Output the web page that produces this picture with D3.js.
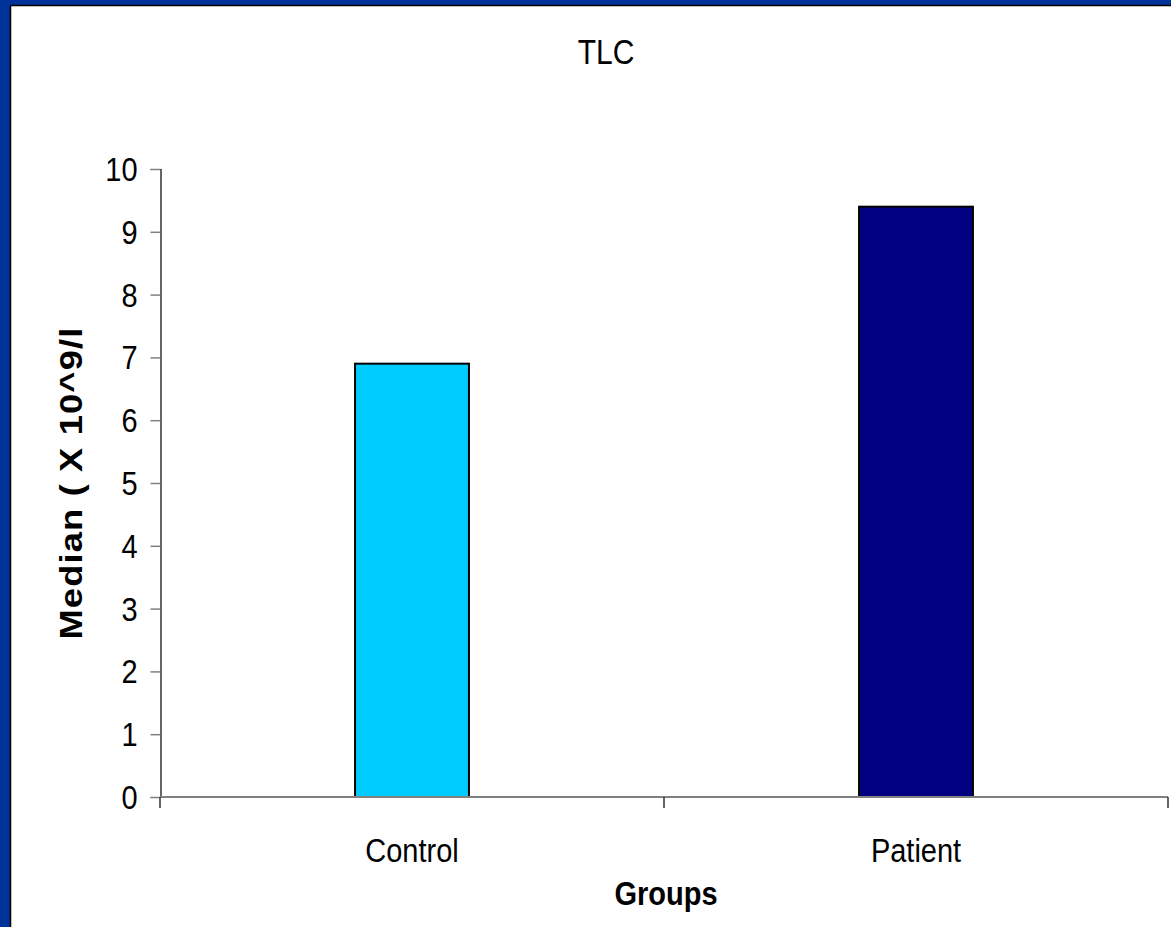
<!DOCTYPE html>
<html>
<head>
<meta charset="utf-8">
<script src="https://cdn.jsdelivr.net/npm/d3@7"></script>
<style>
  html, body { margin: 0; padding: 0; background: #fff; }
  svg text { font-family: "Liberation Sans", Arial, sans-serif; fill: #000; }
</style>
</head>
<body>
<svg id="chart" width="1171" height="927"></svg>
<script>
"use strict";

var groups = ["Control", "Patient"];
var medians = [6.9, 9.4];
var barColors = ["#00ccff", "#000080"];
var yTicks = [0, 1, 2, 3, 4, 5, 6, 7, 8, 9, 10];

var stretch = 1.17; // the slide text is a bit taller than it is wide

var svg = d3.select("#chart");

// slide frame: blue band left and top with thin black edge
svg.append("rect").attr("x", 0).attr("y", 0).attr("width", 1171).attr("height", 5).attr("fill", "#003399");
svg.append("rect").attr("x", 0).attr("y", 0).attr("width", 10).attr("height", 927).attr("fill", "#003399");
svg.append("line").attr("x1", 10.5).attr("x2", 10.5).attr("y1", 5).attr("y2", 927).attr("stroke", "#000").attr("stroke-width", 1.5);
svg.append("line").attr("x1", 10).attr("x2", 1171).attr("y1", 5.5).attr("y2", 5.5).attr("stroke", "#000").attr("stroke-width", 1.5);

var xScale = d3.scaleBand().domain(groups).range([160, 1168]).paddingInner(0.774).paddingOuter(0.387);
var yScale = d3.scaleLinear().domain([0, 10]).range([797, 169]);

// bars
svg.selectAll("rect.bar")
	.data(groups)
	.enter()
	.append("rect")
	.attr("class", "bar")
	.attr("x", function(d){ return xScale(d); })
	.attr("width", xScale.bandwidth())
	.attr("y", function(d, i){ return yScale(medians[i]); })
	.attr("height", function(d, i){ return yScale(0) - yScale(medians[i]); })
	.attr("fill", function(d, i){ return barColors[i]; })
	.attr("stroke", "#000")
	.attr("stroke-width", 2);

// y axis
var yAxisG = svg.append("g")
	.attr("transform", "translate(160.5,0)")
	.call(d3.axisLeft(yScale).tickValues(yTicks).tickSize(10).tickPadding(13).tickFormat(d3.format("d")));
yAxisG.select(".domain").attr("stroke", "#000").attr("stroke-width", 1.2);
yAxisG.selectAll(".tick line").attr("stroke", "#808080").attr("stroke-width", 1.5);
yAxisG.selectAll(".tick text")
	.attr("font-size", 29)
	.attr("font-family", "Liberation Sans, Arial, sans-serif")
	.attr("dy", "0.34em")
	.attr("transform", "scale(1," + stretch + ")");

// x axis
var step = xScale.step();
var bounds = [160, 160 + step, 160 + 2 * step];
var xAxisG = svg.append("g");
xAxisG.append("line")
	.attr("x1", 160).attr("x2", 1168)
	.attr("y1", yScale(0)).attr("y2", yScale(0))
	.attr("stroke", "#808080").attr("stroke-width", 2);
xAxisG.selectAll("line.xtick")
	.data(bounds)
	.enter()
	.append("line")
	.attr("class", "xtick")
	.attr("x1", function(d){ return d; }).attr("x2", function(d){ return d; })
	.attr("y1", yScale(0)).attr("y2", yScale(0) + 11)
	.attr("stroke", "#333").attr("stroke-width", 1.5);
xAxisG.selectAll("text.xlabel")
	.data(groups)
	.enter()
	.append("text")
	.attr("class", "xlabel")
	.attr("transform", function(d){
		return "translate(" + (xScale(d) + xScale.bandwidth() / 2) + ",862) scale(1," + stretch + ")";
	})
	.attr("text-anchor", "middle")
	.attr("font-size", 29)
	.text(function(d){ return d; });

// titles
svg.append("text")
	.attr("transform", "translate(606,64) scale(1," + stretch + ")")
	.attr("text-anchor", "middle")
	.attr("font-size", 30)
	.text("TLC");

svg.append("text")
	.attr("transform", "translate(666,905) scale(1," + stretch + ")")
	.attr("text-anchor", "middle")
	.attr("font-size", 29)
	.attr("font-weight", "bold")
	.text("Groups");

svg.append("text")
	.attr("transform", "translate(82,483) scale(1," + stretch + ") rotate(-90)")
	.attr("text-anchor", "middle")
	.attr("font-size", 31)
	.attr("font-weight", "bold")
	.attr("letter-spacing", 1)
	.text("Median ( X 10^9/l");
</script>
</body>
</html>
